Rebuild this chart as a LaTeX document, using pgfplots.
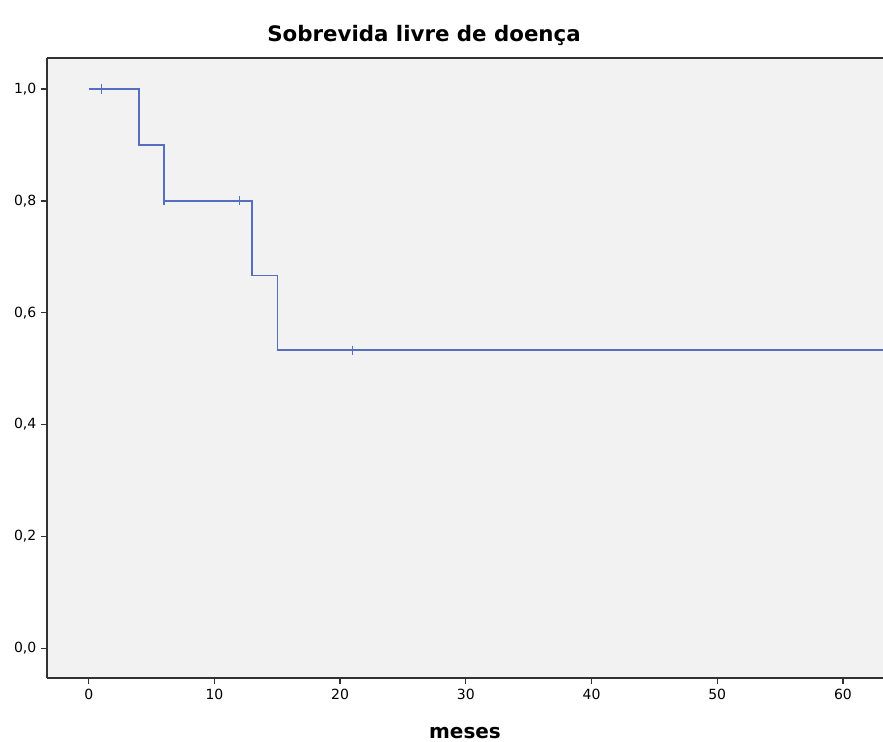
\documentclass[border=0pt]{standalone}
\usepackage{pgfplots}
\pgfplotsset{compat=1.18}
\usepackage{fontspec}
\setmainfont{DejaVu Sans}
\definecolor{kmblue}{RGB}{85,110,190}
\definecolor{axgray}{RGB}{50,50,50}
\begin{document}
\begin{tikzpicture}
\path[use as bounding box] (-35.25pt,-48pt) rectangle (627pt,508.5pt);
\begin{axis}[
  scale only axis, width=627pt, height=465pt, at={(0,0)}, anchor=south west,
  xmin=-3.32, xmax=63.19, ymin=-0.053, ymax=1.0554,
  axis x line=box, axis y line=left,
  axis line style={-, axgray, line width=1.1pt},
  axis background/.style={fill=black!5},
  tick align=outside, major tick length=4.5pt,
  tick style={axgray, line width=1pt},
  xtick pos=bottom, ytick pos=left,
  xtick={0,10,20,30,40,50,60},
  xticklabels={0,10,20,30,40,50,60},
  ytick={0,0.2,0.4,0.6,0.8,1.0},
  yticklabels={{0,0},{0,2},{0,4},{0,6},{0,8},{1,0}},
  /pgf/number format/assume math mode=true,
  ticklabel style={font=\fontsize{10.5}{13}\selectfont},
  title={Sobrevida livre de doença},
  title style={at={(rel axis cs:0.451,1)}, anchor=base, yshift=6pt, font=\fontsize{16}{19}\selectfont\bfseries},
  xlabel={meses},
  xlabel style={at={(rel axis cs:0.5,0)}, anchor=base, yshift=-45.75pt, font=\fontsize{15}{18}\selectfont\bfseries},
  clip=true,
]
\addplot[const plot, color=kmblue, line width=1.1pt] coordinates {
  (0,1) (4,0.9) (6,0.8) (13,0.6667) (15,0.5333) (64,0.5333)
};
\addplot[only marks, mark=|, mark size=3.4pt, color=kmblue, mark options={line width=1.1pt}] coordinates {
  (1,1) (6,0.8) (12,0.8) (21,0.5333)
};
\end{axis}
\end{tikzpicture}
\end{document}
